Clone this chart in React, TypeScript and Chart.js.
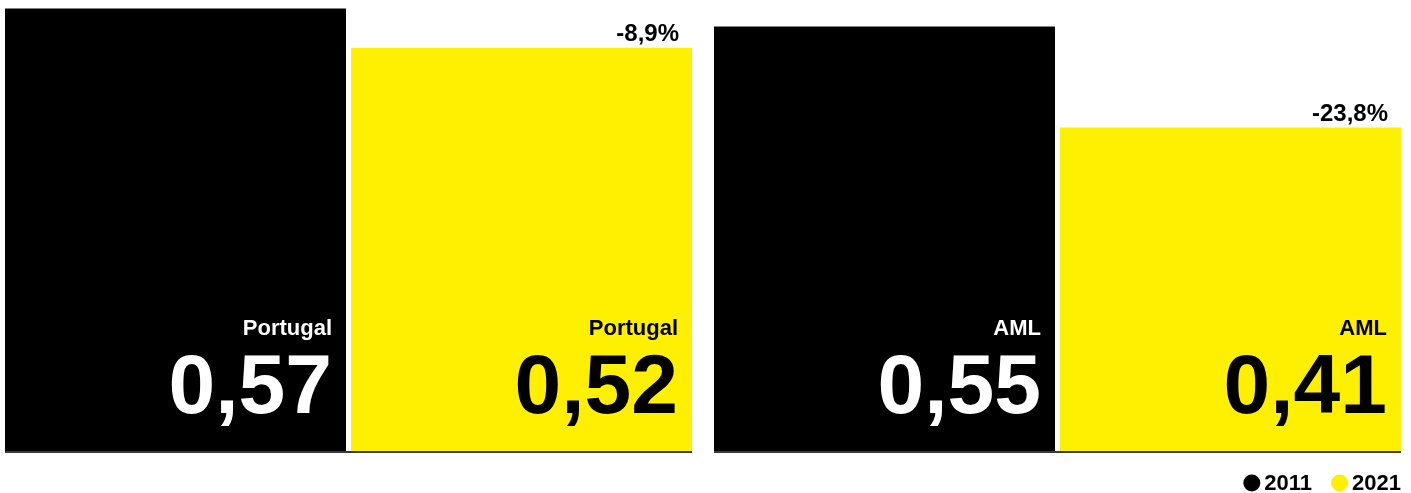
import React, { useEffect, useRef } from "react";
import { Chart, registerables } from "chart.js";

Chart.register(...registerables);

// ---- data ----
const years = ["2011", "2021"];
const regions = ["Portugal", "AML"];
const portugalValues = [0.574, 0.523];
const amlValues = [0.5505, 0.4195];
const yearColors = ["#000000", "#FFEF00"];
const valueTextColors = ["#FFFFFF", "#000000"];
const yMax = 0.585;

const FONT = '"Liberation Sans", Arial, Helvetica, sans-serif';

function fmtValue(v: number): string {
  return (Math.floor(v * 100 + 1e-9) / 100).toFixed(2).replace(".", ",");
}
function fmtChange(a: number, b: number): string {
  return ((b / a - 1) * 100).toFixed(1).replace(".", ",") + "%";
}

const barTextPlugin = {
  id: "barText",
  afterDatasetsDraw(chart: any, _args: any, opts: any) {
    const ctx: CanvasRenderingContext2D = chart.ctx;
    const region: string = opts.region;
    const bars = chart.data.datasets.map((_d: any, i: number) => chart.getDatasetMeta(i).data[i]);
    const vals = chart.data.datasets.map((d: any, i: number) => d.data[i] as number);
    ctx.save();
    const first = bars[0];
    const last = bars[bars.length - 1];
    const left = first.x - first.width / 2;
    const right = last.x + last.width / 2;
    const base = first.base;
    // baseline
    ctx.fillStyle = "#3a3a3a";
    ctx.fillRect(left, base, right - left, 2);

    ctx.textAlign = "right";
    ctx.textBaseline = "alphabetic";
    bars.forEach((bar: any, i: number) => {
      const r = bar.x + bar.width / 2 - 14;
      ctx.fillStyle = valueTextColors[i];
      ctx.font = `bold 22px ${FONT}`;
      ctx.fillText(region, r, base - 116);
      ctx.font = `bold 84px ${FONT}`;
      ctx.fillText(fmtValue(vals[i]), r, base - 38);
    });
    // change label above the later bar
    const lb = last;
    ctx.fillStyle = "#000000";
    ctx.font = `bold 24px ${FONT}`;
    ctx.fillText(fmtChange(vals[0], vals[vals.length - 1]), lb.x + lb.width / 2 - 13, lb.y - 7);

    // legend
    if (opts.showLegend) {
      ctx.font = `bold 22px ${FONT}`;
      ctx.textAlign = "left";
      const d = 17;
      const gap = 4;
      const spacing = 19;
      const widths = years.map((y) => ctx.measureText(y).width);
      const total = widths.reduce((s, w) => s + d + gap + w, 0) + spacing * (years.length - 1);
      let x = right - total;
      const cy = base + 32;
      years.forEach((y, i) => {
        ctx.fillStyle = yearColors[i];
        ctx.beginPath();
        ctx.arc(x + d / 2, cy, d / 2, 0, Math.PI * 2);
        ctx.fill();
        x += d + gap;
        ctx.fillStyle = "#000000";
        ctx.fillText(y, x, base + 39);
        x += widths[i] + spacing;
      });
    }
    ctx.restore();
  },
};

function Panel(props: { values: number[]; region: string; left: number; width: number; padLeft: number; padRight: number; showLegend: boolean }) {
  const ref = useRef<HTMLCanvasElement | null>(null);
  useEffect(() => {
    if (!ref.current) return;
    const chart = new Chart(ref.current, {
      type: "bar",
      data: {
        labels: years,
        datasets: years.map((y, i) => ({
          label: y,
          data: props.values.map((v, j) => (j === i ? v : null)),
          backgroundColor: yearColors[i],
          borderWidth: 0,
          grouped: false,
          categoryPercentage: 1,
          barPercentage: 341 / 346,
        })) as any,
      },
      options: {
        responsive: false,
        animation: false,
        layout: { padding: { left: props.padLeft, right: props.padRight, top: 0, bottom: 42 } },
        scales: {
          x: { display: false, offset: true },
          y: { display: false, min: 0, max: yMax },
        },
        plugins: {
          legend: { display: false },
          tooltip: { enabled: false },
          barText: { region: props.region, showLegend: props.showLegend },
        } as any,
      },
      plugins: [barTextPlugin],
    });
    return () => chart.destroy();
  }, []);
  return (
    <canvas
      ref={ref}
      width={props.width}
      height={493}
      style={{ position: "absolute", left: props.left, top: 0, width: props.width, height: 493 }}
    />
  );
}

export default function App() {
  return (
    <div style={{ position: "absolute", left: 0, top: 0, width: 1411, height: 493, background: "#ffffff" }}>
      <Panel values={portugalValues} region={regions[0]} left={0} width={700} padLeft={2.5} padRight={5.5} showLegend={false} />
      <Panel values={amlValues} region={regions[1]} left={705} width={706} padLeft={6.5} padRight={7.5} showLegend={true} />
    </div>
  );
}
